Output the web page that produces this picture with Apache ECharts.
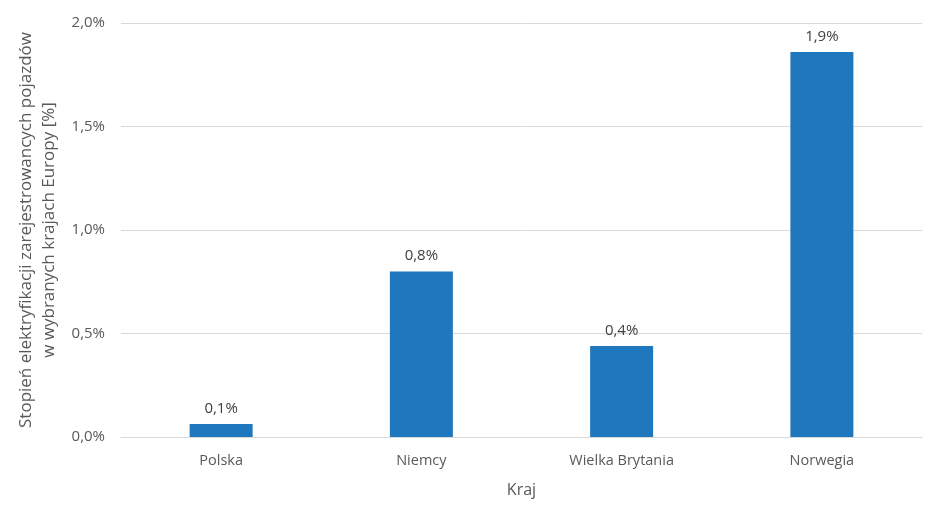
<!DOCTYPE html>
<html>
<head>
<meta charset="utf-8">
<script src="https://cdn.jsdelivr.net/npm/echarts@6/dist/echarts.min.js"></script>
<style>
  html, body { margin: 0; padding: 0; background: #fff; }
  #chart { width: 940px; height: 513px; }
</style>
</head>
<body>
<div id="chart"></div>
<script>
// kraje i udział (w %)
const countries = ['Polska', 'Niemcy', 'Wielka Brytania', 'Norwegia'];
const shares = [0.063, 0.80, 0.44, 1.86];
const yTicks = [0, 0.5, 1.0, 1.5, 2.0];

const fmt = v => v.toFixed(1).replace('.', ',') + '%';
const font = 'Open Sans';

const chart = echarts.init(document.getElementById('chart'));
chart.setOption({
  animation: false,
  grid: { left: 121, right: 18, top: 23, bottom: 76, containLabel: false },
  xAxis: {
    type: 'category',
    data: countries,
    name: 'Kraj',
    nameLocation: 'middle',
    nameGap: 45,
    nameTextStyle: { color: '#595959', fontSize: 16, fontFamily: font },
    axisLine: { lineStyle: { color: '#d9d9d9', width: 1 } },
    axisTick: { show: false },
    axisLabel: { color: '#595959', fontSize: 14.5, fontFamily: font, margin: 16 }
  },
  yAxis: {
    type: 'value',
    min: yTicks[0],
    max: yTicks[yTicks.length - 1],
    interval: 0.5,
    name: 'Stopień elektryfikacji zarejestrowancych pojazdów\nw wybranych krajach Europy [%]',
    nameLocation: 'middle',
    nameGap: 58,
    nameTextStyle: { color: '#595959', fontSize: 17, fontFamily: font, lineHeight: 23 },
    axisLine: { show: false },
    axisTick: { show: false },
    splitLine: { lineStyle: { color: '#d9d9d9', width: 1 } },
    axisLabel: { color: '#595959', fontSize: 15, fontFamily: font, margin: 16, formatter: fmt }
  },
  series: [{
    type: 'bar',
    data: shares,
    barWidth: 63,
    itemStyle: { color: '#1f77bd' },
    label: {
      show: true,
      position: 'top',
      distance: 8,
      color: '#404040',
      fontSize: 15,
      fontFamily: font,
      formatter: p => fmt(p.value)
    }
  }]
});
</script>
</body>
</html>
